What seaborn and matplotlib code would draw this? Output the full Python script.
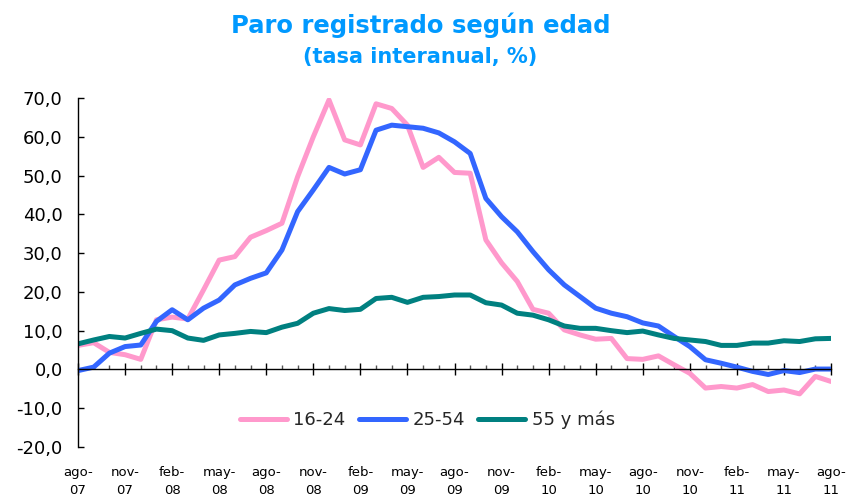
import numpy as np
import pandas as pd
import matplotlib
matplotlib.use("Agg")
import matplotlib.pyplot as plt
import seaborn as sns
from matplotlib.ticker import FuncFormatter, MultipleLocator

# Monthly data, ago-07 .. ago-11 (49 months)
month_idx = list(range(49))
tick_labels = ["ago-\n07", "nov-\n07", "feb-\n08", "may-\n08", "ago-\n08", "nov-\n08",
               "feb-\n09", "may-\n09", "ago-\n09", "nov-\n09", "feb-\n10", "may-\n10",
               "ago-\n10", "nov-\n10", "feb-\n11", "may-\n11", "ago-\n11"]

edad_16_24 = [6.2, 6.9, 4.4, 3.8, 2.6, 12.8, 13.5, 13.0, 20.5, 28.2, 29.1, 34.1, 35.8,
              37.7, 49.7, 60.0, 69.5, 59.2, 57.9, 68.5, 67.3, 63.0, 52.1, 54.7, 50.8,
              50.6, 33.4, 27.5, 22.7, 15.5, 14.5, 10.2, 8.9, 7.8, 8.0, 2.8, 2.6, 3.5,
              1.2, -1.0, -4.8, -4.4, -4.8, -3.9, -5.7, -5.3, -6.3, -1.8, -3.1]
edad_25_54 = [-0.3, 0.6, 4.2, 5.9, 6.3, 12.4, 15.4, 12.8, 15.8, 17.9, 21.8, 23.5, 24.9,
              30.8, 40.7, 46.3, 52.1, 50.4, 51.5, 61.7, 63.0, 62.6, 62.2, 61.0, 58.7,
              55.7, 44.1, 39.4, 35.5, 30.4, 25.7, 21.8, 18.8, 15.8, 14.5, 13.6, 12.0,
              11.2, 8.5, 5.9, 2.5, 1.6, 0.6, -0.5, -1.3, -0.3, -0.8, 0.1, 0.1]
edad_55_mas = [6.6, 7.6, 8.5, 8.1, 9.3, 10.4, 10.0, 8.1, 7.5, 8.9, 9.3, 9.8, 9.5, 10.9,
               11.9, 14.5, 15.7, 15.2, 15.5, 18.3, 18.6, 17.3, 18.6, 18.8, 19.2, 19.2,
               17.2, 16.6, 14.5, 14.0, 12.8, 11.2, 10.6, 10.6, 10.0, 9.5, 9.9, 8.9, 8.0,
               7.6, 7.2, 6.2, 6.2, 6.8, 6.8, 7.4, 7.2, 7.9, 8.0]

df = pd.DataFrame({"mes": month_idx, "16-24": edad_16_24,
                   "25-54": edad_25_54, "55 y más": edad_55_mas})
long_df = df.melt(id_vars="mes", var_name="grupo", value_name="tasa")

sns.set_style("white")
plt.rcParams["font.family"] = ["DejaVu Sans"]

palette = {"16-24": "#FF99CC", "25-54": "#3366FF", "55 y más": "#008080"}

fig = plt.figure(figsize=(8.49, 4.97), dpi=100)
ax = fig.add_axes([78 / 849, 1 - 447 / 497, (831 - 78) / 849, (447 - 98) / 497])

sns.lineplot(data=long_df, x="mes", y="tasa", hue="grupo", palette=palette,
             linewidth=3.6, ax=ax, legend=True)
for ln in ax.get_lines():
    ln.set_solid_joinstyle("round")
    ln.set_solid_capstyle("round")

ax.set_xlim(0, 48)
ax.set_ylim(-20, 70)
ax.set_xlabel("")
ax.set_ylabel("")

# y axis
ax.yaxis.set_major_locator(MultipleLocator(10))
ax.yaxis.set_major_formatter(FuncFormatter(lambda v, p: f"{v:.1f}".replace(".", ",")))
ax.tick_params(axis="y", direction="in", length=4, width=1, pad=11,
               labelsize=13, colors="black", left=True)
ax.spines["top"].set_visible(False)
ax.spines["right"].set_visible(False)
ax.spines["left"].set_color("black")
ax.spines["left"].set_linewidth(1)

# x axis drawn at zero
ax.spines["bottom"].set_position(("data", 0))
ax.spines["bottom"].set_color("black")
ax.spines["bottom"].set_linewidth(1)
ax.set_xticks(range(0, 49, 3))
ax.set_xticks(range(0, 49), minor=True)
ax.tick_params(axis="x", which="major", direction="inout", length=9, width=1,
               labelbottom=False, bottom=True, color="black")
ax.tick_params(axis="x", which="minor", direction="in", length=3, width=1,
               bottom=True, color="#555555")

# tick labels along the bottom of the plot
secax = ax.secondary_xaxis("bottom")
secax.set_xticks(range(0, 49, 3))
secax.set_xticklabels(tick_labels, linespacing=1.45)
secax.spines["bottom"].set_visible(False)
secax.tick_params(axis="x", length=0, pad=14, labelsize=9.5, colors="black")

ax.grid(False)

handles, labels = ax.get_legend_handles_labels()
ax.legend(handles, labels, loc="center", bbox_to_anchor=(0.464, 0.077), ncol=3,
          frameon=False, fontsize=13, handlelength=2.6, handletextpad=0.35,
          columnspacing=0.75, borderaxespad=0)

fig.text(0.495, 1 - 25 / 497, "Paro registrado según edad", ha="center", va="center",
         fontsize=17.5, fontweight="bold", color="#0099FF")
fig.text(0.495, 1 - 57 / 497, "(tasa interanual, %)", ha="center", va="center",
         fontsize=15, fontweight="bold", color="#0099FF")

fig.savefig("out.png", dpi=100)
